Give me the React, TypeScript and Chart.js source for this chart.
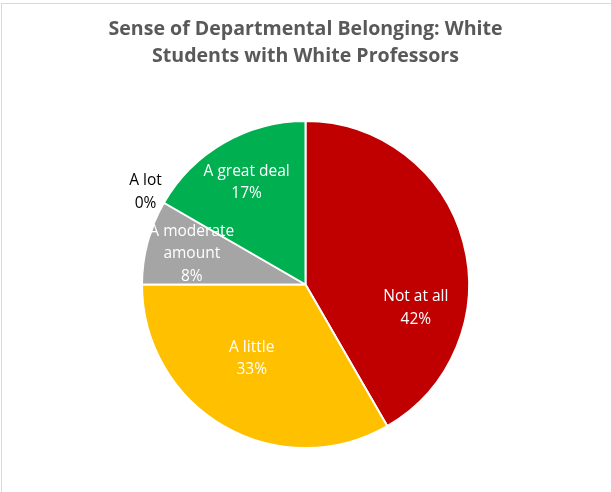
import React, { useEffect, useRef } from "react";
import { Chart, registerables } from "chart.js";

Chart.register(...registerables);

const TITLE_LINES = ["Sense of Departmental Belonging: White", "Students with White Professors"];
const CATEGORIES = ["Not at all", "A little", "A moderate amount", "A lot", "A great deal"];
const CATEGORY_LINES = [["Not at all"], ["A little"], ["A moderate", "amount"], ["A lot"], ["A great deal"]];
const COUNTS = [5, 4, 1, 0, 2];
const COLORS = ["#C00000", "#FFC000", "#A5A5A5", "#5B9BD5", "#00B050"];

// label placement style (fraction of radius, angular shift in degrees)
const LABEL_RADIUS = [0.69, 0.56, 0.72, 1.13, 0.72];
const LABEL_SHIFT = [27, 6, 0, 0, 0];

const FONT = "'Open Sans', Lato, sans-serif";

const stretchedTitle = {
  id: "stretchedTitle",
  afterDraw(chart: any) {
    const ctx = chart.ctx as CanvasRenderingContext2D;
    const ca = chart.chartArea;
    const cx = (ca.left + ca.right) / 2;
    ctx.save();
    ctx.font = `bold 19px ${FONT}`;
    ctx.fillStyle = "#595959";
    ctx.textAlign = "center";
    ctx.textBaseline = "middle";
    TITLE_LINES.forEach((t, k) => {
      ctx.save();
      ctx.translate(cx, 30 + k * 27);
      ctx.scale(1.03, 1);
      ctx.fillText(t, 0, 0);
      ctx.restore();
    });
    ctx.restore();
  },
};

const sliceLabels = {
  id: "sliceLabels",
  afterDatasetsDraw(chart: any) {
    const ctx = chart.ctx as CanvasRenderingContext2D;
    const meta = chart.getDatasetMeta(0);
    const data = chart.data.datasets[0].data as number[];
    const total = data.reduce((a, b) => a + b, 0);
    ctx.save();
    ctx.font = `15.5px ${FONT}`;
    ctx.textAlign = "center";
    ctx.textBaseline = "middle";
    meta.data.forEach((arc: any, i: number) => {
      const p = arc.getProps(["x", "y", "startAngle", "endAngle", "outerRadius"], true);
      const v = data[i];
      const pct = Math.round((v / total) * 100) + "%";
      const lines = [...CATEGORY_LINES[i], pct];
      const inside = v > 0;
      const ang = (p.startAngle + p.endAngle) / 2 + (LABEL_SHIFT[i] * Math.PI) / 180;
      const r = p.outerRadius * LABEL_RADIUS[i];
      const cx = p.x + Math.cos(ang) * r;
      const cy = p.y + Math.sin(ang) * r;
      ctx.fillStyle = inside ? "#FFFFFF" : "#000000";
      const lh = 22.5;
      const startY = cy - ((lines.length - 1) * lh) / 2;
      lines.forEach((t, k) => ctx.fillText(t, cx, startY + k * lh));
    });
    ctx.restore();
  },
};

export default function App() {
  const ref = useRef<HTMLCanvasElement | null>(null);
  useEffect(() => {
    if (!ref.current) return;
    const chart = new Chart(ref.current, {
      type: "pie",
      data: {
        labels: CATEGORIES,
        datasets: [
          {
            data: COUNTS,
            backgroundColor: COLORS,
            borderColor: "#FFFFFF",
            borderWidth: 2,
          },
        ],
      },
      options: {
        responsive: false,
        animation: false,
        layout: { padding: { top: 120, left: 141, right: 141, bottom: 43 } },
        plugins: {
          legend: { display: false },
          tooltip: { enabled: false },
          title: { display: false },
        },
      },
      plugins: [sliceLabels, stretchedTitle],
    });
    return () => chart.destroy();
  }, []);
  return (
    <div style={{ position: "fixed", left: 0, top: 0, width: 611, height: 492, background: "#fff", overflow: "hidden" }}>
      <div
        style={{
          position: "absolute",
          left: 1,
          top: 3,
          width: 700,
          height: 600,
          borderTop: "1px solid #D9D9D9",
          borderLeft: "1px solid #D9D9D9",
        }}
      />
      <canvas ref={ref} width={611} height={492} style={{ position: "absolute", left: 0, top: 0 }} />
    </div>
  );
}
